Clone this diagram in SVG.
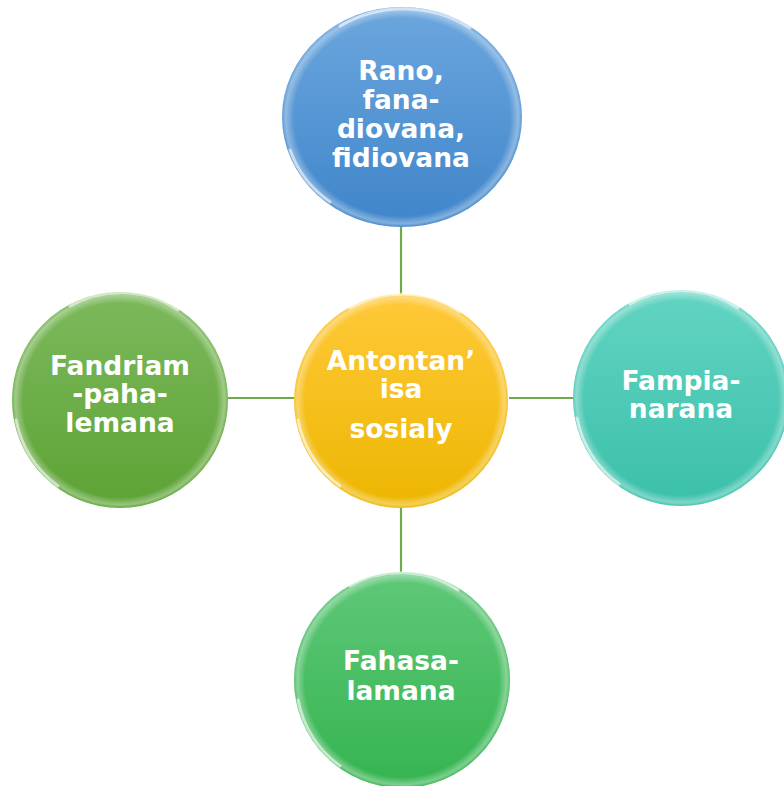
<svg xmlns="http://www.w3.org/2000/svg" width="784" height="786" viewBox="0 0 784 786">
<defs>
<linearGradient id="gBlue" x1="0" y1="0" x2="0" y2="1"><stop offset="0" stop-color="#6CA7DE"/><stop offset="1" stop-color="#3F85CA"/></linearGradient>
<linearGradient id="gYellow" x1="0" y1="0" x2="0" y2="1"><stop offset="0" stop-color="#FFC93A"/><stop offset="1" stop-color="#EDB600"/></linearGradient>
<linearGradient id="gLeft" x1="0" y1="0" x2="0" y2="1"><stop offset="0" stop-color="#7CB95C"/><stop offset="1" stop-color="#5DA335"/></linearGradient>
<linearGradient id="gTeal" x1="0" y1="0" x2="0" y2="1"><stop offset="0" stop-color="#62D4C2"/><stop offset="1" stop-color="#3BC0AA"/></linearGradient>
<linearGradient id="gBottom" x1="0" y1="0" x2="0" y2="1"><stop offset="0" stop-color="#5FC878"/><stop offset="1" stop-color="#35B450"/></linearGradient>
<radialGradient id="rim" cx="0.5" cy="0.5" r="0.5"><stop offset="0.9" stop-color="#fff" stop-opacity="0"/><stop offset="0.97" stop-color="#fff" stop-opacity="0.35"/><stop offset="1" stop-color="#fff" stop-opacity="0.05"/></radialGradient>
</defs>
<style>
.conn line{stroke:#6FAA4A;stroke-width:2.2}
.lbl{font-family:"DejaVu Sans","Liberation Sans",sans-serif;font-weight:bold;font-size:26.5px;fill:#fff;text-anchor:middle}
.hl{fill:none;stroke:#fff;stroke-opacity:0.6;stroke-width:3;stroke-linecap:round}
.rim{fill:url(#rim)}
</style>
<rect width="784" height="786" fill="#fff"/>
<g id="connectors" class="conn">
<line x1="401" y1="225" x2="401" y2="298"/>
<line x1="228" y1="398" x2="294" y2="398"/>
<line x1="509" y1="398" x2="574" y2="398"/>
<line x1="401" y1="505" x2="401" y2="573"/>
</g>
<g id="node-top">
<ellipse cx="402" cy="117" rx="120" ry="110" fill="url(#gBlue)"/>
<ellipse cx="402" cy="117" rx="120" ry="110" class="rim"/>
<path class="hl" d="M290 150 A116 106 0 0 0 330 202"/>
<path class="hl" d="M340 26 A116 106 0 0 1 470 28" stroke-opacity="0.35"/>
<text class="lbl"><tspan x="401" y="80">Rano,</tspan><tspan x="401" y="109">fana-</tspan><tspan x="401" y="138">diovana,</tspan><tspan x="401" y="167">fidiovana</tspan></text>
</g>
<g id="node-center">
<circle cx="401" cy="401" r="107" fill="url(#gYellow)"/>
<circle cx="401" cy="401" r="107" class="rim"/>
<path class="hl" d="M298 420 A104 104 0 0 0 340 486"/>
<path class="hl" d="M350 308 A104 104 0 0 1 460 312" stroke-opacity="0.35"/>
<text class="lbl"><tspan x="401" y="370">Antontan’</tspan><tspan x="401" y="398">isa</tspan><tspan x="401" y="438">sosialy</tspan></text>
</g>
<g id="node-left">
<circle cx="120" cy="400" r="108" fill="url(#gLeft)"/>
<circle cx="120" cy="400" r="108" class="rim"/>
<path class="hl" d="M16 420 A104 104 0 0 0 58 486"/>
<path class="hl" d="M70 306 A104 104 0 0 1 178 310" stroke-opacity="0.35"/>
<text class="lbl"><tspan x="120" y="375">Fandriam</tspan><tspan x="120" y="403">-paha-</tspan><tspan x="120" y="432">lemana</tspan></text>
</g>
<g id="node-right">
<circle cx="681" cy="398" r="108" fill="url(#gTeal)"/>
<circle cx="681" cy="398" r="108" class="rim"/>
<path class="hl" d="M577 418 A104 104 0 0 0 619 484"/>
<path class="hl" d="M630 304 A104 104 0 0 1 738 308" stroke-opacity="0.35"/>
<text class="lbl"><tspan x="681" y="390">Fampia-</tspan><tspan x="681" y="418">narana</tspan></text>
</g>
<g id="node-bottom">
<circle cx="402" cy="680" r="108" fill="url(#gBottom)"/>
<circle cx="402" cy="680" r="108" class="rim"/>
<path class="hl" d="M298 700 A104 104 0 0 0 340 766"/>
<path class="hl" d="M350 586 A104 104 0 0 1 458 590" stroke-opacity="0.35"/>
<text class="lbl"><tspan x="401" y="670">Fahasa-</tspan><tspan x="401" y="700">lamana</tspan></text>
</g>
</svg>
